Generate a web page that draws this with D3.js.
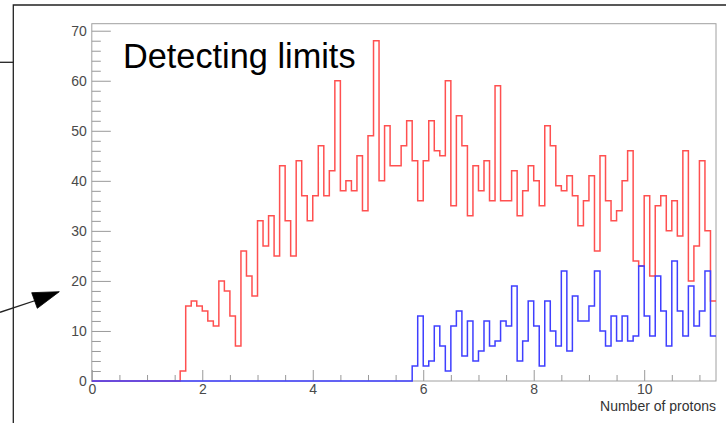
<!DOCTYPE html>
<html>
<head>
<meta charset="utf-8">
<script src="https://cdn.jsdelivr.net/npm/d3@7"></script>
<style>
  body { margin: 0; background: #fff; }
  text { font-family: "Liberation Sans", Arial, Helvetica, sans-serif; }
</style>
</head>
<body>
<div id="chart"></div>
<script>
// histogram binning: 113 bins of 0.1 from 0 to 11.3
const binWidth = 0.1;
const xMax = 11.3;
const yMax = 71.4;

// red histogram, counts per bin (bins 0.0 .. 11.2)
const redCounts = [
  0, 0, 0, 0, 0, 0, 0, 0, 0, 0, 0, 0, 0, 0, 0, 0,
  2, 15, 16, 15, 14, 12, 11, 20, 18, 13, 7, 26, 21, 17,
  32, 27, 33, 25, 43, 32, 25, 44, 37, 32,
  37, 47, 37, 42, 60, 38, 40, 38, 45, 34,
  49, 68, 40, 51, 43, 43, 47, 52, 44, 36,
  44, 52, 46, 45, 60, 35, 53, 47, 33, 43,
  38, 44, 36, 59, 36, 36, 42, 33, 38, 43,
  40, 35, 51, 47, 39, 38, 41, 37, 31, 36,
  41, 26, 45, 36, 32, 34, 40, 46, 24, 23,
  37, 21, 35, 37, 30, 36, 29, 46, 20, 27,
  44, 30, 16
];

// blue histogram, counts per bin (bins 0.0 .. 11.2)
const blueCounts = [
  0, 0, 0, 0, 0, 0, 0, 0, 0, 0,
  0, 0, 0, 0, 0, 0, 0, 0, 0, 0,
  0, 0, 0, 0, 0, 0, 0, 0, 0, 0,
  0, 0, 0, 0, 0, 0, 0, 0, 0, 0,
  0, 0, 0, 0, 0, 0, 0, 0, 0, 0,
  0, 0, 0, 0, 0, 0, 0, 0, 3, 13,
  3, 4, 11, 7, 2, 11, 14, 5, 12, 4,
  6, 12, 7, 8, 12, 11, 19, 4, 8, 16,
  11, 3, 16, 10, 7, 22, 6, 17, 12, 12,
  15, 22, 10, 7, 13, 8, 13, 8, 9, 23,
  13, 9, 21, 14, 7, 24, 14, 9, 19, 11,
  14, 22, 9
];

const xTickLabels = ["0", "2", "4", "6", "8", "10"];
const yTickLabels = ["0", "10", "20", "30", "40", "50", "60", "70"];
const xMinorTicks = [0.5, 1, 1.5, 2.5, 3, 3.5, 4.5, 5, 5.5, 6.5, 7, 7.5, 8.5, 9, 9.5, 10.5, 11];
const yMinorTicks = [2, 4, 6, 8, 12, 14, 16, 18, 22, 24, 26, 28, 32, 34, 36, 38,
                     42, 44, 46, 48, 52, 54, 56, 58, 62, 64, 66, 68];
const title = "Detecting limits";
const xTitle = "Number of protons";

const W = 726, H = 423;
const margin = {top: 23.7, right: 10, bottom: 42, left: 91.8};

const svg = d3.select("#chart")
              .append("svg")
              .attr("width", W)
              .attr("height", H);

const x = d3.scaleLinear()
            .domain([0, xMax])
            .range([margin.left, W - margin.right]);
const y = d3.scaleLinear()
            .domain([0, yMax])
            .range([H - margin.bottom, margin.top]);

// outer pad decoration (lines + arrow)
const deco = svg.append("g")
                .attr("fill", "none")
                .attr("stroke", "#222")
                .attr("stroke-width", 1.3);
deco.append("path").attr("d", "M13.3,423 V5 H726");
deco.append("path").attr("d", "M0,62.3 H13.3");
deco.append("path").attr("d", "M0,312.3 L40,299");
deco.append("path")
    .attr("d", "M59.3,291.7 L31.7,292.7 L37.3,308.3 Z")
    .attr("fill", "#000")
    .attr("stroke", "#000")
    .attr("stroke-width", 0.8);

// frame
svg.append("rect")
   .attr("x", x(0))
   .attr("y", y(yMax))
   .attr("width", x(xMax) - x(0))
   .attr("height", y(0) - y(yMax))
   .attr("fill", "none")
   .attr("stroke", "#a0a0a0")
   .attr("stroke-width", 1);

// axes
function styleAxis(g) {
  g.select(".domain").remove();
  g.selectAll(".tick line").attr("stroke", "#999");
  g.selectAll(".tick text")
   .attr("fill", "#4a4a4a")
   .style("font-size", "14px")
   .style("font-family", "'Liberation Sans', Arial, sans-serif");
}

svg.append("g")
   .attr("transform", `translate(0,${y(0)})`)
   .call(d3.axisBottom(x).tickValues(xMinorTicks).tickSize(-6).tickFormat(""))
   .call(styleAxis);
svg.append("g")
   .attr("transform", `translate(0,${y(0)})`)
   .call(d3.axisBottom(x).tickValues(xTickLabels.map(Number)).tickSize(-11).tickPadding(3)
           .tickFormat((d, i) => xTickLabels[i]))
   .call(styleAxis);

svg.append("g")
   .attr("transform", `translate(${x(0)},0)`)
   .call(d3.axisLeft(y).tickValues(yMinorTicks).tickSize(-9).tickFormat(""))
   .call(styleAxis);
svg.append("g")
   .attr("transform", `translate(${x(0)},0)`)
   .call(d3.axisLeft(y).tickValues(yTickLabels.map(Number)).tickSize(-19).tickPadding(5)
           .tickFormat((d, i) => yTickLabels[i]))
   .call(styleAxis);

// histograms as step outlines
function stepPoints(counts) {
  const pts = counts.map((c, i) => [i * binWidth, c]);
  pts.push([counts.length * binWidth, counts[counts.length - 1]]);
  return pts;
}
const line = d3.line()
               .x(d => x(d[0]))
               .y(d => y(d[1]))
               .curve(d3.curveStepAfter);

svg.append("path")
   .datum(stepPoints(redCounts))
   .attr("d", line)
   .attr("fill", "none")
   .attr("stroke", "#ff5050")
   .attr("stroke-width", 1.5);
svg.append("path")
   .datum(stepPoints(blueCounts))
   .attr("d", line)
   .attr("fill", "none")
   .attr("stroke", "#3f3fff")
   .attr("stroke-width", 1.5);

// texts
svg.append("text")
   .attr("x", 123)
   .attr("y", 68)
   .attr("fill", "#000")
   .style("font-size", "34.3px")
   .text(title);
svg.append("text")
   .attr("x", x(xMax))
   .attr("y", 411)
   .attr("text-anchor", "end")
   .attr("fill", "#333")
   .style("font-size", "14px")
   .text(xTitle);
</script>
</body>
</html>
